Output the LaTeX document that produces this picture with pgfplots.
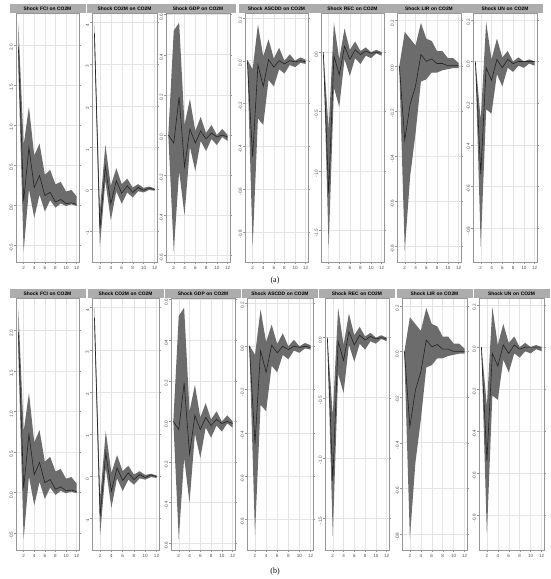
\documentclass[border=0pt]{standalone}
\usepackage{fontspec}
\setmainfont{Liberation Sans}
\newfontfamily\capfont{Liberation Serif}
\usepackage{pgfplots}
\usepackage{pgfplotstable}
\pgfplotsset{compat=1.18}
\usepgfplotslibrary{fillbetween}

\definecolor{bandc}{RGB}{108,108,108}
\definecolor{linec}{RGB}{35,35,35}
\definecolor{gridc}{RGB}{228,228,228}
\definecolor{framec}{RGB}{150,150,150}
\definecolor{labc}{RGB}{80,80,80}
\definecolor{stripc}{RGB}{172,172,172}

% t irf lo up
\pgfplotstableread{
t irf lo up
1 1.98 1.72 2.28
2 0.05 -0.58 0.75
3 0.72 0.20 1.23
4 0.22 -0.16 0.62
5 0.37 0.13 0.77
6 0.12 -0.08 0.38
7 0.16 0.06 0.44
8 0.04 -0.03 0.26
9 0.07 0.02 0.29
10 0.02 -0.01 0.17
11 0.03 0.01 0.19
12 0.01 -0.01 0.11
}\tFCI
\pgfplotstableread{
t irf lo up
1 3.75 3.45 4.00
2 -0.95 -1.40 -0.52
3 0.55 0.20 1.07
4 -0.35 -0.75 0.08
5 0.20 -0.05 0.50
6 -0.10 -0.35 0.12
7 0.08 -0.08 0.25
8 -0.08 -0.20 0.04
9 0.04 -0.05 0.12
10 -0.03 -0.08 0.03
11 0.03 -0.02 0.06
12 -0.01 -0.04 0.02
}\tCOM
\pgfplotstableread{
t irf lo up
1 0.00 -0.005 0.005
2 -0.04 -0.58 0.52
3 0.19 -0.18 0.56
4 -0.16 -0.40 0.05
5 0.03 -0.06 0.18
6 -0.04 -0.18 0.02
7 0.02 -0.03 0.09
8 -0.02 -0.08 0.01
9 0.01 -0.02 0.05
10 -0.01 -0.05 0.00
11 0.00 -0.01 0.03
12 -0.01 -0.03 0.00
}\tGDP
\pgfplotstableread{
t irf lo up
1 0.00 -0.005 0.005
2 -0.45 -0.87 -0.04
3 -0.02 -0.27 0.17
4 -0.12 -0.30 0.02
5 0.005 -0.09 0.10
6 -0.03 -0.12 0.01
7 0.00 -0.04 0.06
8 -0.015 -0.06 0.00
9 0.00 -0.02 0.03
10 -0.005 -0.03 0.00
11 0.00 -0.01 0.015
12 -0.005 -0.015 0.005
}\tASC
\pgfplotstableread{
t irf lo up
1 0.00 -0.01 0.01
2 -1.19 -1.65 -0.65
3 -0.03 -0.30 0.25
4 -0.19 -0.46 -0.06
5 0.05 -0.06 0.20
6 -0.06 -0.20 0.02
7 0.02 -0.05 0.09
8 -0.02 -0.10 0.01
9 0.01 -0.03 0.04
10 -0.01 -0.05 0.00
11 0.00 -0.01 0.02
12 -0.01 -0.03 0.00
}\tREC
\pgfplotstableread{
t irf lo up
1 0.00 -0.02 0.00
2 -0.33 -0.82 0.15
3 -0.17 -0.49 0.12
4 -0.09 -0.30 0.09
5 0.05 -0.07 0.19
6 0.02 -0.06 0.12
7 0.03 -0.03 0.11
8 0.01 -0.03 0.065
9 0.01 -0.02 0.065
10 0.00 -0.015 0.034
11 0.00 -0.01 0.034
12 0.00 -0.01 0.012
}\tLIR
\pgfplotstableread{
t irf lo up
1 0.00 -0.005 0.005
2 -0.54 -0.89 -0.28
3 -0.03 -0.23 0.19
4 -0.09 -0.25 0.01
5 0.01 -0.06 0.11
6 -0.03 -0.12 0.02
7 0.01 -0.03 0.05
8 -0.01 -0.05 0.00
9 0.00 -0.02 0.02
10 0.00 -0.03 0.00
11 0.00 -0.01 0.01
12 0.00 -0.02 0.00
}\tUN

\pgfplotsset{
  irf/.style={
    scale only axis,
    xmin=0.56, xmax=12.44,
    xtick={2,4,...,12},
    grid=major,
    major grid style={draw=gridc, line width=0.5pt},
    axis line style={draw=framec, line width=0.7pt},
    tick style={draw=framec, line width=0.4pt},
    tick align=outside,
    major tick length=1.6pt,
    /pgf/number format/assume math mode=true,
    xticklabel style={font=\fontsize{4.6}{5}\selectfont, text=labc, inner sep=1pt, yshift=-1.5pt},
    yticklabel style={font=\fontsize{4.6}{5}\selectfont, text=labc, rotate=90,
      anchor=south, inner sep=1.2pt, xshift=-2.5pt,
      /pgf/number format/fixed, /pgf/number format/fixed zerofill,
      /pgf/number format/precision=1},
    every axis title/.style={at={(0.5,1)}, anchor=south, fill=stripc,
      inner sep=0pt, minimum height=9pt, text width=76pt, align=center,
      font=\bfseries\fontsize{4.9}{5}\selectfont},
  },
}

\newcommand\panel[9]{%
  \begin{axis}[irf, at={(#1pt,#2pt)}, anchor=south west, width=#3pt, height=#4pt,
    title={#5}, ymin=#7, ymax=#8, #9]
    \addplot[name path=bandup, draw=none] table[x=t, y=up] {#6};
    \addplot[name path=bandlo, draw=none] table[x=t, y=lo] {#6};
    \addplot[bandc] fill between[of=bandup and bandlo];
    \addplot[linec, line width=0.6pt] table[x=t, y=irf] {#6};
  \end{axis}}

\begin{document}
\begin{tikzpicture}

% ---- row (a)
\panel{16}{317}{63}{249}{Shock FCI on CO2M}{\tFCI}{-0.71}{2.40}{ytick={-0.5,0,0.5,1,1.5,2}}
\panel{92}{317}{65}{249}{Shock CO2M on CO2M}{\tCOM}{-1.75}{4.23}{ytick={-1,0,1,2,3,4}, yticklabel style={/pgf/number format/precision=0}}
\panel{166}{317}{64}{249}{Shock GDP on CO2M}{\tGDP}{-0.633}{0.608}{ytick={-0.6,-0.4,-0.2,0,0.2,0.4,0.6}}
\panel{245}{317}{63}{249}{Shock ASCDD on CO2M}{\tASC}{-0.941}{0.223}{ytick={-0.8,-0.6,-0.4,-0.2,0,0.2}}
\panel{321}{317}{63}{249}{Shock REC on CO2M}{\tREC}{-1.767}{0.33}{ytick={-1.5,-1,-0.5,0}}
\panel{397}{317}{64}{249}{Shock LIR on CO2M}{\tLIR}{-0.87}{0.234}{ytick={-0.8,-0.6,-0.4,-0.2,0,0.2}}
\panel{473}{317}{64}{249}{Shock UN on CO2M}{\tUN}{-0.963}{0.233}{ytick={-0.8,-0.6,-0.4,-0.2,0,0.2}}
\node[font=\capfont\fontsize{8}{9}\selectfont] at (275pt,298pt) {(a)};

% ---- row (b)
\panel{16}{29}{63}{252}{Shock FCI on CO2M}{\tFCI}{-0.71}{2.40}{ytick={-0.5,0,0.5,1,1.5,2}}
\panel{92}{29}{67}{252}{Shock CO2M on CO2M}{\tCOM}{-1.75}{4.23}{ytick={-1,0,1,2,3,4}, yticklabel style={/pgf/number format/precision=0}}
\panel{171}{29}{64}{252}{Shock GDP on CO2M}{\tGDP}{-0.633}{0.608}{ytick={-0.6,-0.4,-0.2,0,0.2,0.4,0.6}}
\panel{247}{29}{66}{252}{Shock ASCDD on CO2M}{\tASC}{-0.941}{0.223}{ytick={-0.8,-0.6,-0.4,-0.2,0,0.2}}
\panel{325}{29}{64}{252}{Shock REC on CO2M}{\tREC}{-1.767}{0.33}{ytick={-1.5,-1,-0.5,0}}
\panel{402}{29}{65}{252}{Shock LIR on CO2M}{\tLIR}{-0.87}{0.234}{ytick={-0.8,-0.6,-0.4,-0.2,0,0.2}}
\panel{479}{29}{65}{252}{Shock UN on CO2M}{\tUN}{-0.963}{0.233}{ytick={-0.8,-0.6,-0.4,-0.2,0,0.2}}
\node[font=\capfont\fontsize{8}{9}\selectfont] at (275pt,7pt) {(b)};

\pgfresetboundingbox
\path[use as bounding box] (0pt,0pt) rectangle (550pt,579pt);
\end{tikzpicture}
\end{document}
